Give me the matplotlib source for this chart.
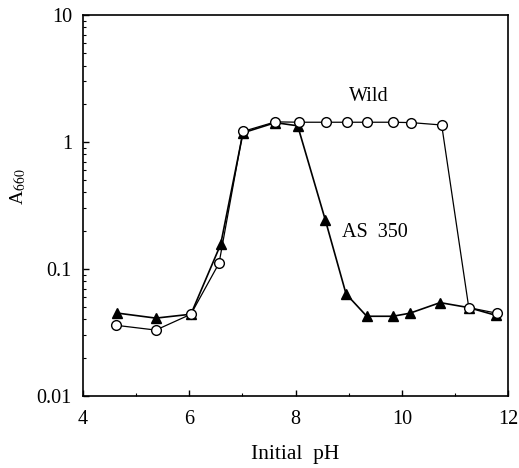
import matplotlib
matplotlib.use('Agg')
import matplotlib.pyplot as plt
from matplotlib.ticker import FixedLocator, LogLocator, NullFormatter

plt.rcParams['font.family'] = ['Liberation Serif', 'DejaVu Serif']
plt.rcParams['mathtext.fontset'] = 'stix'

# growth (A660) vs initial pH
ph_wild = [4.62, 5.37, 6.03, 6.56, 7.01, 7.62, 8.07, 8.57, 8.96, 9.34, 9.83, 10.18, 10.75, 11.26, 11.79]
a660_wild = [0.036, 0.033, 0.044, 0.111, 1.21, 1.44, 1.43, 1.43, 1.43, 1.43, 1.43, 1.42, 1.36, 0.0496, 0.0448]

ph_as350 = [4.63, 5.37, 6.03, 6.59, 7.01, 7.62, 8.04, 8.56, 8.95, 9.34, 9.83, 10.15, 10.72, 11.26, 11.78]
a660_as350 = [0.045, 0.041, 0.044, 0.156, 1.18, 1.42, 1.34, 0.243, 0.0636, 0.0424, 0.0424, 0.0448, 0.0543, 0.0496, 0.043]

x_ticks = [4, 6, 8, 10, 12]
y_ticks = [0.01, 0.1, 1, 10]
y_tick_labels = ['0.01', '0.1', '1', '10']

fig = plt.figure(figsize=(5.19, 4.68), dpi=100)
ax = fig.add_axes([0.160, 0.154, 0.819, 0.814])

ax.plot(ph_wild, a660_wild, color='black', lw=0.9, marker='o', ms=7,
        mfc='white', mec='black', mew=1.0, zorder=3)
ax.plot(ph_as350, a660_as350, color='black', lw=1.2, marker='^', ms=6.5,
        mfc='black', mec='black', zorder=2)

ax.set_yscale('log')
ax.set_xlim(4, 12)
ax.set_ylim(0.01, 10)
ax.set_xticks(x_ticks)
ax.set_xticklabels([str(t) for t in x_ticks])
ax.xaxis.set_minor_locator(FixedLocator([5, 7, 9, 11]))
ax.set_yticks(y_ticks)
ax.set_yticklabels(y_tick_labels)
ax.yaxis.set_minor_locator(LogLocator(base=10, subs=range(2, 10)))
ax.yaxis.set_minor_formatter(NullFormatter())

ax.tick_params(which='both', direction='in', labelsize=14.5, top=False, right=False)
ax.tick_params(which='major', length=4, width=1.0)
ax.tick_params(axis='x', which='major', pad=10)
ax.tick_params(axis='y', which='major', pad=8)
ax.tick_params(which='minor', length=2.5, width=0.8)
for sp in ax.spines.values():
    sp.set_linewidth(1.2)

ax.text(9.37, 2.26, 'Wild', fontsize=14.5, ha='center', va='center')
ax.text(9.5, 0.192, 'AS  350', fontsize=14.5, ha='center', va='center')

ax.set_xlabel('Initial  pH', fontsize=15.5)
ax.xaxis.set_label_coords(0.5, -0.155)
ax.xaxis.label.set_va('center')
ax.set_ylabel('A$_{660}$', fontsize=14)
ax.yaxis.set_label_coords(-0.153, 0.55)
ax.yaxis.label.set_va('center')

fig.savefig('out.png', dpi=100)
